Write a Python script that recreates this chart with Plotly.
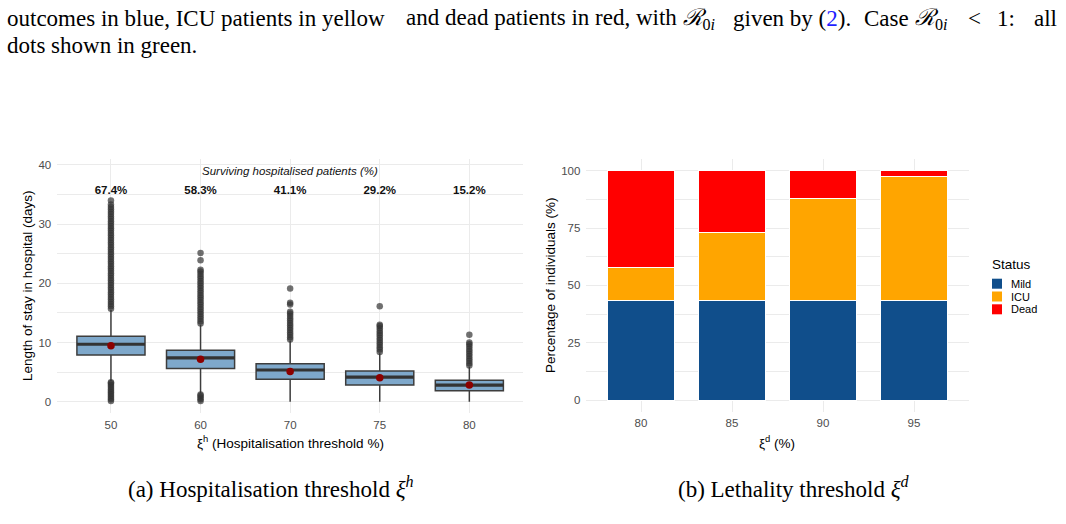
import plotly.graph_objects as go

# ---------------- data ----------------
hosp_thresholds = ["50", "60", "70", "75", "80"]
los_q1 = [7.9, 5.6, 3.8, 2.8, 1.85]
los_median = [9.7, 7.4, 5.35, 4.15, 2.8]
los_q3 = [11.05, 8.7, 6.4, 5.2, 3.6]
los_lowerfence = [3.5, 1.4, 0.0, 0.0, 0.0]
los_upperfence = [15.5, 13.0, 10.3, 8.2, 5.9]
los_mean = [9.45, 7.15, 5.1, 4.05, 2.8]
surviving_pct = ["67.4%", "58.3%", "41.1%", "29.2%", "15.2%"]

outliers_50 = [0.1, 0.4, 0.7, 1.0, 1.3, 1.6, 1.9, 2.2, 2.5, 2.8, 3.1, 3.3,
               15.7, 16.1, 16.5, 16.9, 17.3, 17.7, 18.1, 18.5, 18.9, 19.3, 19.7,
               20.1, 20.5, 20.9, 21.3, 21.7, 22.1, 22.5, 22.9, 23.3, 23.7, 24.1,
               24.5, 24.9, 25.3, 25.7, 26.1, 26.5, 26.9, 27.3, 27.7, 28.1, 28.5,
               28.9, 29.3, 29.7, 30.1, 30.5, 30.9, 31.3, 31.7, 32.1, 32.5, 32.9,
               33.3, 34.0]
outliers_60 = [0.1, 0.4, 0.7, 1.0, 1.2,
               13.2, 13.6, 14.0, 14.4, 14.8, 15.2, 15.6, 16.0, 16.4, 16.8, 17.2,
               17.6, 18.0, 18.4, 18.8, 19.2, 19.6, 20.0, 20.4, 20.8, 21.2, 21.6,
               22.0, 22.3, 23.9, 25.1]
outliers_70 = [10.5, 10.9, 11.3, 11.7, 12.1, 12.5, 12.9, 13.3, 13.7, 14.1, 14.5,
               14.9, 15.2, 16.4, 16.7, 19.1]
outliers_75 = [8.4, 8.8, 9.2, 9.6, 10.0, 10.4, 10.8, 11.2, 11.6, 12.0, 12.4,
               12.8, 13.0, 16.1]
outliers_80 = [6.1, 6.5, 6.9, 7.3, 7.7, 8.1, 8.5, 8.9, 9.3, 9.7, 10.0, 11.3]
outliers_all = [outliers_50, outliers_60, outliers_70, outliers_75, outliers_80]

leth_thresholds = ["80", "85", "90", "95"]
status_names = ["Mild", "ICU", "Dead"]
pct_mild = [43.6, 43.6, 43.6, 43.6]
pct_icu = [14.1, 29.5, 44.1, 54.0]
pct_dead = [42.3, 26.9, 12.3, 2.4]
status_values = [pct_mild, pct_icu, pct_dead]
status_colors = ["#104E8B", "#FFA500", "#FF0000"]

# ---------------- helpers ----------------
W, H = 1066, 524
def px(x):
    return x / W
def py(y):
    return 1 - y / H

SANS = "Liberation Sans, Arial, sans-serif"
SERIF = "Liberation Serif, Times New Roman, serif"
GRID = "#EBEBEB"
TICK = "#4D4D4D"

fig = go.Figure()

# ---------------- left: boxplots ----------------
pos = list(range(len(hosp_thresholds)))
box_w = 0.76
fig.add_trace(go.Box(
    x=pos, q1=los_q1, median=los_median, q3=los_q3,
    lowerfence=los_lowerfence, upperfence=los_upperfence,
    width=box_w, whiskerwidth=0, boxpoints=False,
    fillcolor="#7EA8CB", line=dict(color="#3d3d3d", width=1.5),
    xaxis="x", yaxis="y", showlegend=False, hoverinfo="skip"))

ox, oy = [], []
for i, vals in enumerate(outliers_all):
    ox += [i] * len(vals)
    oy += vals
fig.add_trace(go.Scatter(
    x=ox, y=oy, mode="markers",
    marker=dict(size=6.5, color="rgba(51,51,51,0.7)", line=dict(width=0)),
    xaxis="x", yaxis="y", showlegend=False, hoverinfo="skip"))

mx, my = [], []
for i, m in enumerate(los_median):
    mx += [i - box_w / 2, i + box_w / 2, None]
    my += [m, m, None]
fig.add_trace(go.Scatter(
    x=mx, y=my, mode="lines", line=dict(color="#333333", width=3.2),
    xaxis="x", yaxis="y", showlegend=False, hoverinfo="skip"))

fig.add_trace(go.Scatter(
    x=pos, y=los_mean, mode="markers",
    marker=dict(size=7.5, color="#8B0000"),
    xaxis="x", yaxis="y", showlegend=False, hoverinfo="skip"))

label_y = 35.6
fig.add_trace(go.Scatter(
    x=pos, y=[label_y] * len(pos), mode="text", text=surviving_pct,
    textfont=dict(family=SANS, size=11.5, color="#111111", weight="bold"),
    xaxis="x", yaxis="y", showlegend=False, hoverinfo="skip"))

# ---------------- right: stacked bars ----------------
bpos = list(range(len(leth_thresholds)))
for name, vals, col in zip(status_names, status_values, status_colors):
    fig.add_trace(go.Bar(
        x=bpos, y=vals, name=name, width=0.73,
        marker=dict(color=col, line=dict(color="white", width=1)),
        xaxis="x2", yaxis="y2", showlegend=False, hoverinfo="skip"))

# ---------------- axes ----------------
common_tick = dict(family=SANS, size=11.5, color=TICK)
fig.update_layout(
    width=W, height=H,
    margin=dict(l=0, r=0, t=0, b=0),
    paper_bgcolor="white", plot_bgcolor="white",
    barmode="stack",
    showlegend=False,
    xaxis=dict(domain=[px(57.2), px(523.1)], range=[-0.6, 4.6],
               tickmode="array", tickvals=pos, ticktext=hosp_thresholds,
               showgrid=True, gridcolor=GRID, gridwidth=1.3, zeroline=False,
               showline=False, ticks="", tickfont=common_tick,
               ticklabelstandoff=3, anchor="y"),
    yaxis=dict(domain=[py(413.2), py(159.3)], range=[-1.95, 40.95],
               tickmode="array", tickvals=[0, 10, 20, 30, 40],
               showgrid=True, gridcolor=GRID, gridwidth=1.3, zeroline=False,
               showline=False, ticks="", tickfont=common_tick,
               ticklabelstandoff=5, anchor="x",
               minor=dict(tickvals=[5, 15, 25, 35], showgrid=True,
                          gridcolor=GRID, gridwidth=0.7)),
    xaxis2=dict(domain=[px(586.4), px(968.6)], range=[-0.6, 3.6],
                tickmode="array", tickvals=bpos, ticktext=leth_thresholds,
                showgrid=True, gridcolor=GRID, gridwidth=1.3, zeroline=False,
                showline=False, ticks="", tickfont=common_tick,
                ticklabelstandoff=3, anchor="y2"),
    yaxis2=dict(domain=[py(411.5), py(159.3)], range=[-5, 105],
                tickmode="array", tickvals=[0, 25, 50, 75, 100],
                showgrid=True, gridcolor=GRID, gridwidth=1.3, zeroline=False,
                showline=False, ticks="", tickfont=common_tick,
                ticklabelstandoff=5, anchor="x2",
                minor=dict(tickvals=[12.5, 37.5, 62.5, 87.5], showgrid=True,
                           gridcolor=GRID, gridwidth=0.7)),
)

ann = []
def note(x, y, text, font, xanchor="center", yanchor="middle", **kw):
    ann.append(dict(x=px(x), y=py(y), xref="paper", yref="paper", showarrow=False,
                    xanchor=xanchor, yanchor=yanchor, text=text, font=font, **kw))

title_font = dict(family=SANS, size=13.5, color="black")
# left panel header
ann.append(dict(x=2, y=39.0, xref="x", yref="y", showarrow=False,
                xanchor="center", yanchor="middle",
                text="<i>Surviving hospitalised patients (%)</i>",
                font=dict(family=SANS, size=11.5, color="#111111")))
# axis titles
note(290, 442, "ξ<sup>h</sup> (Hospitalisation threshold %)", title_font)
note(27, 286, "Length of stay in hospital (days)", title_font, textangle=-90)
note(777, 442, "ξ<sup>d</sup> (%)", title_font)
note(550, 285, "Percentage of individuals (%)", title_font, textangle=-90)

# manual legend
note(990, 264, "Status", dict(family=SANS, size=13.5, color="black"), xanchor="left")
shapes = []
for k, (name, col) in enumerate(zip(status_names, status_colors)):
    yc = 283.7 + 12.8 * k
    shapes.append(dict(type="rect", xref="paper", yref="paper",
                       x0=px(992), x1=px(1002), y0=py(yc - 5), y1=py(yc + 5),
                       fillcolor=col, line=dict(width=0)))
    note(1009, yc, name, dict(family=SANS, size=11, color="black"), xanchor="left")

# paper text (justified first line approximated by pieces)
serif_font = dict(family=SERIF, size=23, color="black")
R0i = "<i>ℛ</i><sub>0<i>i</i></sub>"
note(5, 19, "outcomes in blue, ICU patients in yellow", serif_font, xanchor="left")
note(404, 19, "and dead patients in red, with " + R0i, serif_font, xanchor="left")
note(853, 19, "given by (<span style='color:#1F1FFF'>2</span>).", serif_font, xanchor="right")
note(862, 19, "Case", serif_font, xanchor="left")
note(913, 19, R0i, serif_font, xanchor="left")
note(974, 19, "&lt;", serif_font)
note(995, 19, "1:", serif_font, xanchor="left")
note(1059, 19, "all", serif_font, xanchor="right")
note(5, 46, "dots shown in green.", serif_font, xanchor="left")
note(271, 487, "(a) Hospitalisation threshold <i>ξ</i><sup><i>h</i></sup>", serif_font)
note(794, 487, "(b) Lethality threshold <i>ξ</i><sup><i>d</i></sup>", serif_font)

fig.update_layout(annotations=ann, shapes=shapes)
fig.write_html("out.html")
